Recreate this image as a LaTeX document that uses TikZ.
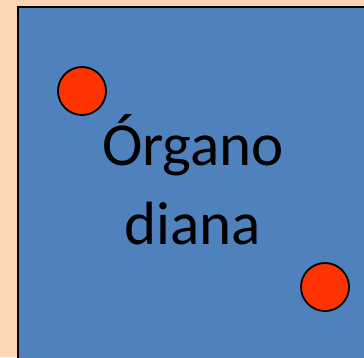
\documentclass[tikz,border=0pt]{standalone}
\usepackage{fontspec}
\setmainfont{Carlito}
\definecolor{peach}{HTML}{FCD5B4}
\definecolor{organblue}{HTML}{4F81BD}
\definecolor{cellred}{HTML}{FF3300}
\begin{document}
\begin{tikzpicture}[x=1pt,y=-1pt,
  organ/.style={fill=organblue,draw=black,line width=2.4pt},
  cell/.style={circle,fill=cellred,draw=black,line width=1.8pt,minimum size=48pt,inner sep=0pt},
  label/.style={font=\fontsize{61}{79}\selectfont,text=black,inner sep=0pt,anchor=base}]
  \fill[peach] (0,0) rectangle (364,357);
  \useasboundingbox (0,0) rectangle (364,357);
  \begin{scope}
    \clip (0,0) rectangle (364,357);
    \draw[organ] (18,7) rectangle (368,380);
  \end{scope}
  \node[cell] (c1) at (82,91) {};
  \node[cell] (c2) at (325,287) {};
  \node[label] (t1) at (193,165) {Órgano};
  \node[label] (t2) at (193,244) {diana};
\end{tikzpicture}
\end{document}
